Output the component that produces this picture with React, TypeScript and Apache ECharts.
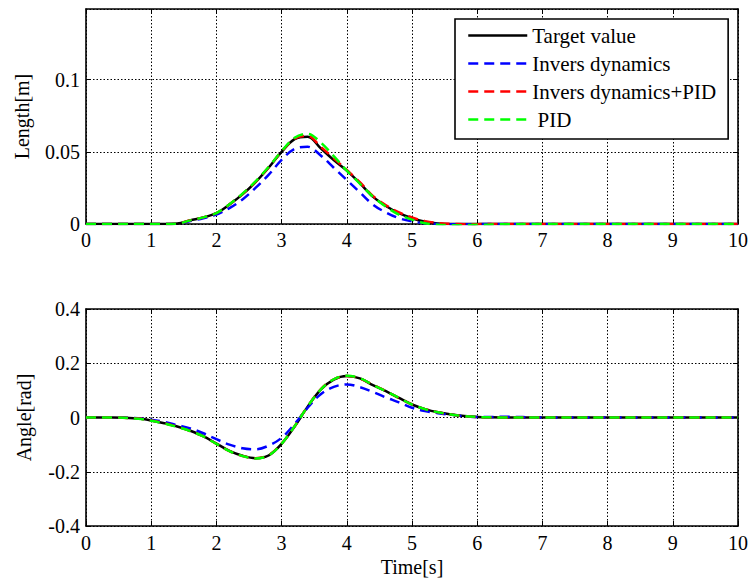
import React, { useEffect, useRef } from "react";
import * as echarts from "echarts";

// time samples (s), shared by both panels
const TIME = [0, 0.4, 0.8, 1.0, 1.2, 1.4, 1.6, 1.8, 2.0, 2.2, 2.4, 2.6, 2.8, 3.0, 3.2, 3.4, 3.6, 3.8, 4.0, 4.2, 4.4, 4.6, 4.8, 5.0, 5.2, 5.4, 5.6, 5.8, 6.0, 6.2, 6.4, 7, 8, 9, 10];

const SERIES_NAMES = ["Target value", "Invers dynamics", "Invers dynamics+PID", " PID"];

// Length [m]
const LEN_TARGET = [0, 0, 0, 0, 0, 0.0003, 0.0025, 0.0045, 0.0075, 0.0135, 0.0205, 0.029, 0.039, 0.05, 0.0588, 0.0605, 0.0525, 0.0443, 0.037, 0.0283, 0.019, 0.0125, 0.0075, 0.004, 0.0015, 0.0004, 0, 0, 0, 0, 0, 0, 0, 0, 0];
const LEN_INV = [0, 0, 0, 0, 0, 0.0002, 0.002, 0.004, 0.0065, 0.011, 0.017, 0.025, 0.034, 0.0445, 0.052, 0.0535, 0.0475, 0.039, 0.0305, 0.022, 0.0135, 0.008, 0.004, 0.0018, 0.0005, 0, -0.0002, -0.0002, -0.0001, 0, 0, 0, 0, 0, 0];
const LEN_INV_PID = [0, 0, 0, 0, 0, 0.0003, 0.0026, 0.0046, 0.0076, 0.0136, 0.0207, 0.0292, 0.0392, 0.0502, 0.0592, 0.061, 0.0535, 0.0455, 0.0375, 0.029, 0.0195, 0.013, 0.008, 0.0045, 0.002, 0.0006, 0.0001, -0.0001, -0.0001, 0, 0, 0, 0, 0, 0];
const LEN_PID = [0, 0, 0, 0, 0, 0.0003, 0.0025, 0.0046, 0.0076, 0.0137, 0.021, 0.0295, 0.0395, 0.0505, 0.0598, 0.0625, 0.0565, 0.047, 0.037, 0.028, 0.019, 0.012, 0.0065, 0.003, 0.0005, -0.0005, -0.0008, -0.0008, -0.0006, -0.0004, -0.0002, 0, 0, 0, 0];

// Angle [rad]
const ANG_TARGET = [0, 0, -0.004, -0.011, -0.021, -0.033, -0.049, -0.069, -0.096, -0.123, -0.141, -0.15, -0.14, -0.097, -0.033, 0.04, 0.103, 0.14, 0.153, 0.144, 0.119, 0.097, 0.072, 0.048, 0.031, 0.019, 0.011, 0.0055, 0.002, 0.0005, 0, 0, 0, 0, 0];
const ANG_INV = [0, 0, -0.003, -0.008, -0.016, -0.028, -0.04, -0.058, -0.08, -0.1, -0.113, -0.117, -0.104, -0.075, -0.024, 0.036, 0.086, 0.113, 0.122, 0.112, 0.094, 0.074, 0.056, 0.036, 0.024, 0.016, 0.01, 0.005, 0.002, 0.002, 0.003, 0, 0, 0, 0];
const ANG_INV_PID = [0, 0, -0.004, -0.011, -0.021, -0.034, -0.05, -0.07, -0.097, -0.124, -0.142, -0.15, -0.139, -0.096, -0.032, 0.041, 0.104, 0.141, 0.153, 0.144, 0.12, 0.097, 0.072, 0.048, 0.031, 0.019, 0.011, 0.005, 0.002, 0.0005, 0, 0, 0, 0, 0];
const ANG_PID = [0, 0, -0.005, -0.012, -0.022, -0.035, -0.05, -0.07, -0.097, -0.124, -0.142, -0.151, -0.14, -0.097, -0.032, 0.041, 0.103, 0.141, 0.154, 0.145, 0.12, 0.097, 0.072, 0.048, 0.031, 0.019, 0.011, 0.005, 0.002, 0.0005, 0, 0, 0, 0, 0];

const X_MIN = 0;
const X_MAX = 10;
const X_STEP = 1;
const LEN_MIN = 0;
const LEN_MAX = 0.149;
const LEN_STEP = 0.05;
const ANG_MIN = -0.4;
const ANG_MAX = 0.4;
const ANG_STEP = 0.2;

const COLORS = ["#000000", "#0000ff", "#ff0000", "#00ff00"];
const DASHES: any[] = ["solid", [10, 6], [10, 6], [10, 6]];
const FONT = "Times New Roman, Liberation Serif, DejaVu Serif, serif";

const pairs = (vals: number[]) => TIME.map((t, i) => [t, vals[i]]);

export default function App() {
  const ref = useRef<HTMLDivElement>(null);
  useEffect(() => {
    if (!ref.current) return;
    const chart = echarts.init(ref.current, undefined, { renderer: "svg" });

    const axisLine = { show: true, onZero: false, lineStyle: { color: "#000", width: 1.6 } };
    const tick = { show: true, inside: true, length: 5, lineStyle: { color: "#000", width: 1 } };
    const split = { show: true, lineStyle: { color: "#000", width: 1, type: [1.5, 2] as any } };
    const label = { color: "#000", fontFamily: FONT, fontSize: 20 };
    const nameStyle = { color: "#000", fontFamily: FONT, fontSize: 20 };

    const xBase = (grid: number) => ({ type: "value", gridIndex: grid, min: X_MIN, max: X_MAX, interval: X_STEP });

    const lenSets = [LEN_TARGET, LEN_INV, LEN_INV_PID, LEN_PID];
    const angSets = [ANG_TARGET, ANG_INV, ANG_INV_PID, ANG_PID];

    const mkSeries = (sets: number[][], xi: number, yi: number) =>
      sets.map((vals, k) => ({
        name: SERIES_NAMES[k],
        type: "line",
        xAxisIndex: xi,
        yAxisIndex: yi,
        data: pairs(vals),
        smooth: 0.35,
        showSymbol: false,
        symbol: "none",
        lineStyle: { color: COLORS[k], width: 2.5, type: DASHES[k] },
        itemStyle: { color: COLORS[k] },
        z: 2 + k,
      }));

    chart.setOption({
      animation: false,
      backgroundColor: "#fff",
      textStyle: { fontFamily: FONT },
      grid: [
        { left: 86, top: 9, width: 653, height: 215 },
        { left: 86, top: 309, width: 653, height: 217 },
      ],
      legend: {
        data: SERIES_NAMES,
        orient: "vertical",
        left: 455,
        top: 19,
        padding: [6, 12, 9, 12],
        itemGap: 7,
        itemWidth: 59,
        itemHeight: 20,
        backgroundColor: "#fff",
        borderColor: "#000",
        borderWidth: 1.6,
        borderRadius: 0,
        z: 10,
        itemStyle: { opacity: 0 },
        lineStyle: { width: 2.5 },
        textStyle: { color: "#000", fontFamily: FONT, fontSize: 21, lineHeight: 21 },
        selectedMode: false,
      },
      xAxis: [
        { ...xBase(0), position: "bottom", axisLine, axisTick: tick, splitLine: split, axisLabel: { ...label, margin: 6 } },
        { ...xBase(0), position: "top", axisLine, axisTick: tick, splitLine: { show: false }, axisLabel: { show: false } },
        {
          ...xBase(1), position: "bottom", axisLine, axisTick: tick, splitLine: split, axisLabel: { ...label, margin: 7 },
          name: "Time[s]", nameLocation: "middle", nameGap: 31, nameTextStyle: nameStyle,
        },
        { ...xBase(1), position: "top", axisLine, axisTick: tick, splitLine: { show: false }, axisLabel: { show: false } },
      ],
      yAxis: [
        {
          type: "value", gridIndex: 0, position: "left", min: LEN_MIN, max: LEN_MAX, interval: LEN_STEP,
          axisLine, axisTick: tick, splitLine: split, axisLabel: { ...label, margin: 6, showMaxLabel: false },
          name: "Length[m]", nameLocation: "middle", nameGap: 54, nameTextStyle: nameStyle,
        },
        { type: "value", gridIndex: 0, position: "right", min: LEN_MIN, max: LEN_MAX, interval: LEN_STEP, axisLine, axisTick: tick, splitLine: { show: false }, axisLabel: { show: false } },
        {
          type: "value", gridIndex: 1, position: "left", min: ANG_MIN, max: ANG_MAX, interval: ANG_STEP,
          axisLine, axisTick: tick, splitLine: split, axisLabel: { ...label, margin: 6 },
          name: "Angle[rad]", nameLocation: "middle", nameGap: 52, nameTextStyle: nameStyle,
        },
        { type: "value", gridIndex: 1, position: "right", min: ANG_MIN, max: ANG_MAX, interval: ANG_STEP, axisLine, axisTick: tick, splitLine: { show: false }, axisLabel: { show: false } },
      ],
      series: [...mkSeries(lenSets, 0, 0), ...mkSeries(angSets, 2, 2)],
    });
    return () => chart.dispose();
  }, []);
  return <div ref={ref} style={{ position: "fixed", left: 0, top: 0, width: 751, height: 581 }} />;
}
